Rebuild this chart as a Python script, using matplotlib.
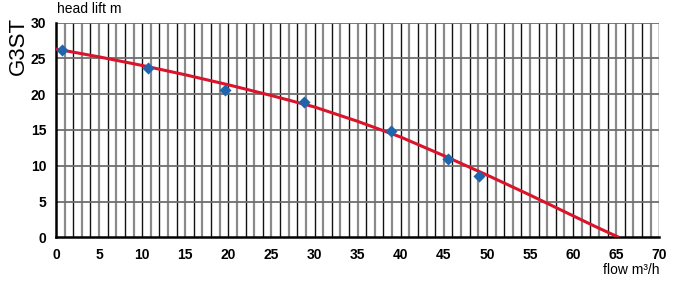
import matplotlib.pyplot as plt
import numpy as np

# measured pump points (blue diamonds)
flow_pts = [0.66, 10.65, 19.6, 28.8, 38.9, 45.5, 49.1]
head_pts = [26.2, 23.6, 20.6, 18.95, 14.8, 11.0, 8.6]

# pump curve (red)
curve_flow = [0, 5, 10, 15, 20, 25, 30, 35, 40, 45, 50, 55, 60, 62.5, 65.3]
curve_head = [26.3, 25.2, 24.0, 22.7, 21.3, 19.8, 18.2, 16.2, 14.0, 11.4, 8.7, 5.9, 3.0, 1.55, 0.0]

x_ticks = list(range(0, 71, 5))
y_ticks = list(range(0, 31, 5))

plt.rcParams['font.family'] = ['Liberation Sans', 'DejaVu Sans']

fig = plt.figure(figsize=(6.76, 2.90), dpi=100)
ax = fig.add_axes([0.0828, 0.1817, 0.8925, 0.7407])

# grid: one vertical line per unit, alternating black / grey
for v in range(1, 71):
    if v % 2 == 0:
        ax.axvline(v, color='#111111', lw=1.0, zorder=1)
    else:
        ax.axvline(v, color='#8a8a8a', lw=1.6, zorder=1)
for h in y_ticks[1:]:
    ax.axhline(h, color='#6e6e6e', lw=1.3, zorder=1)

ax.plot(curve_flow, curve_head, color='#d9142b', lw=2.2, zorder=3,
        solid_capstyle='butt', solid_joinstyle='round')
ax.scatter(flow_pts, head_pts, marker='D', s=38, color='#1f64ad', zorder=4, linewidths=0)

ax.set_xlim(0, 70)
ax.set_ylim(0, 30)
ax.set_xticks(x_ticks)
ax.set_yticks(y_ticks)
ax.tick_params(length=0, labelsize=10)
ax.tick_params(axis='x', pad=8)
ax.tick_params(axis='y', pad=7)
for lab in ax.get_xticklabels() + ax.get_yticklabels():
    lab.set_fontweight('bold')

for side in ['top', 'right']:
    ax.spines[side].set_visible(False)
ax.spines['left'].set_linewidth(1.8)
ax.spines['bottom'].set_linewidth(1.8)
ax.spines['left'].set_zorder(2)
ax.spines['bottom'].set_zorder(2)

fig.text(0.085, 0.945, 'head lift m', fontsize=10, ha='left', va='bottom')
fig.text(0.975, 0.045, 'flow m³/h', fontsize=10, ha='right', va='bottom')
fig.text(0.027, 0.84, 'G3ST', fontsize=16, rotation=90, ha='center', va='center')

fig.savefig('out.png', dpi=100)
